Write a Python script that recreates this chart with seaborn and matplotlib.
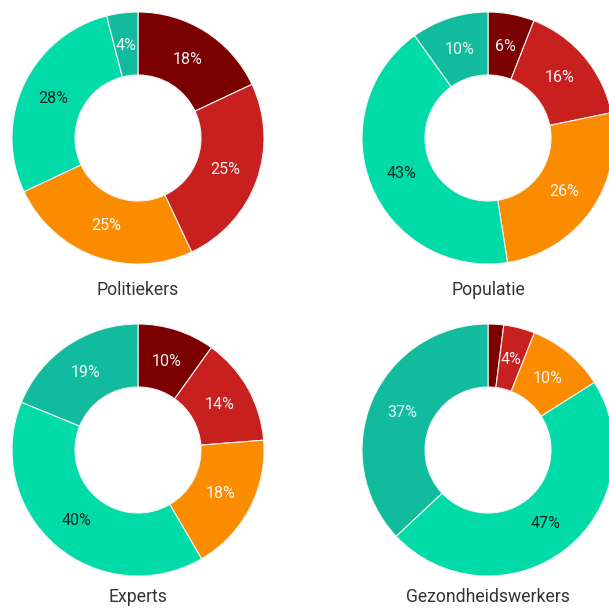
import matplotlib
matplotlib.use("Agg")
import matplotlib.pyplot as plt
import seaborn as sns

# groups and their answer shares (%), clockwise from the top
groups = ["Politiekers", "Populatie", "Experts", "Gezondheidswerkers"]
politiekers = [18, 25, 25, 28, 4]
populatie = [6, 16, 26, 43, 10]
experts = [10, 14, 18, 40, 19]
gezondheidswerkers = [2, 4, 10, 47, 37]
all_values = [politiekers, populatie, experts, gezondheidswerkers]

colors = ["#7b0000", "#c81f1f", "#fb8c00", "#00dba8", "#12bb9e"]
label_colors = ["#f2f2f2", "#f2f2f2", "#f7f7f7", "#0d2b22", "#eaf7f3"]

sns.set_theme(style="white")
plt.rcParams['font.family'] = ['Roboto', 'DejaVu Sans']

W, H = 609, 608
fig = plt.figure(figsize=(W / 100, H / 100), dpi=100)

# donut centres in pixels (from top-left), radius in pixels
centres = [(138, 138), (488, 138), (138, 450), (488, 450)]
R = 126
title_y = [290, 290, 597, 597]


def pct_label(p):
    return "" if p < 3 else f"{p:.0f}%"


for name, vals, (cx, cy), ty in zip(groups, all_values, centres, title_y):
    ax = fig.add_axes([(cx - R) / W, (H - cy - R) / H, 2 * R / W, 2 * R / H])
    wedges, texts, autotexts = ax.pie(
        vals, colors=colors, startangle=90, counterclock=False,
        radius=1, autopct=pct_label, pctdistance=0.74,
        wedgeprops=dict(width=0.5, edgecolor="#f4f4f4", linewidth=0.8),
        textprops=dict(fontsize=11.5))
    for t, c in zip(autotexts, label_colors):
        t.set_color(c)
    ax.set_xlim(-1, 1)
    ax.set_ylim(-1, 1)
    ax.set_aspect("equal")
    ax.axis("off")
    fig.text(cx / W, 1 - ty / H, name, ha="center", va="center",
             fontsize=12.7, color="#333333")

fig.savefig("out.png", dpi=100)
